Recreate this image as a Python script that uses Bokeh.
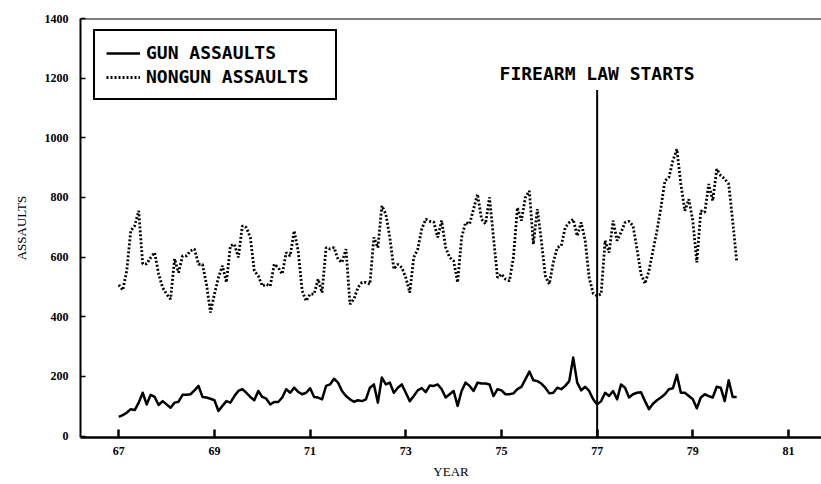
from bokeh.plotting import figure
from bokeh.models import Range1d, FixedTicker, Legend, LegendItem, Label, Span
from bokeh.embed import file_html
from bokeh.resources import INLINE

# ---------------- data (monthly, Jan 1967 - Dec 1979) ----------------
START_YEAR = 67
gun = [64, 70, 78, 90, 87, 112, 145, 106, 138, 131,
       104, 117, 106, 95, 112, 115, 138, 138, 140, 153,
       168, 131, 129, 125, 120, 84, 101, 117, 112, 134,
       151, 157, 145, 131, 120, 151, 131, 125, 106, 114,
       114, 129, 157, 145, 162, 148, 140, 145, 160, 131,
       129, 123, 168, 173, 192, 179, 151, 134, 123, 115,
       120, 117, 123, 162, 173, 112, 196, 173, 179, 145,
       162, 173, 145, 117, 134, 153, 161, 147, 169, 168,
       173, 157, 129, 140, 151, 101, 151, 179, 168, 151,
       179, 176, 176, 173, 134, 157, 153, 140, 140, 143,
       157, 165, 190, 216, 187, 184, 176, 162, 143, 145,
       162, 157, 168, 184, 263, 179, 153, 165, 151, 123,
       106, 117, 145, 134, 151, 123, 173, 162, 129, 140,
       145, 147, 117, 90, 108, 120, 129, 140, 157, 160,
       205, 145, 145, 134, 123, 93, 129, 140, 134, 129,
       165, 162, 117, 187, 131, 131]
nongun = [507, 489, 554, 688, 705, 755, 577, 577, 598, 615,
          543, 498, 476, 459, 594, 548, 604, 604, 621, 627,
          576, 576, 509, 414, 476, 531, 571, 515, 638, 643,
          599, 705, 699, 666, 554, 537, 503, 509, 503, 576,
          565, 543, 615, 604, 688, 621, 487, 453, 476, 476,
          526, 481, 632, 627, 632, 593, 582, 627, 442, 459,
          498, 515, 515, 509, 666, 632, 772, 744, 666, 560,
          576, 565, 531, 481, 599, 627, 694, 727, 720, 718,
          666, 722, 632, 599, 587, 515, 666, 716, 711, 761,
          811, 727, 711, 800, 666, 531, 543, 526, 520, 599,
          766, 722, 800, 822, 643, 761, 655, 537, 509, 582,
          632, 638, 699, 716, 727, 671, 716, 655, 531, 478,
          470, 476, 655, 615, 722, 655, 683, 716, 720, 705,
          627, 543, 511, 554, 621, 688, 766, 856, 867, 923,
          962, 845, 755, 794, 722, 582, 755, 750, 845, 789,
          895, 873, 862, 845, 722, 587]
months = [START_YEAR + i / 12 for i in range(len(gun))]

x_ticks = [67, 69, 71, 73, 75, 77, 79, 81]
y_ticks = [0, 200, 400, 600, 800, 1000, 1200, 1400]
series_labels = ["GUN ASSAULTS", "NONGUN ASSAULTS"]
x_label = "YEAR"
y_label = "ASSAULTS"
law_year = 77
law_line_top = 1160
law_text = "FIREARM LAW STARTS"
law_text_y = 1216

X_MIN, X_MAX = 66.2, 81.69
Y_MIN, Y_MAX = -5, 1400

MONO = "DejaVu Sans Mono"
SERIF = "Liberation Serif"

p = figure(width=821, height=484, output_backend="svg", toolbar_location=None,
           x_range=Range1d(X_MIN, X_MAX), y_range=Range1d(Y_MIN, Y_MAX),
           min_border_left=80, min_border_right=0, min_border_top=18,
           min_border_bottom=47)
p.outline_line_color = None
p.grid.visible = False
p.background_fill_color = "white"
p.border_fill_color = "white"

# axes
xa = p.xaxis[0]
xa.ticker = FixedTicker(ticks=x_ticks)
xa.axis_line_color = "black"
xa.axis_line_width = 2.5
xa.major_tick_in = 8
xa.major_tick_out = 0
xa.major_tick_line_color = "black"
xa.major_tick_line_width = 2.5
xa.minor_tick_line_color = None
xa.major_label_text_font = SERIF
xa.major_label_text_font_style = "bold"
xa.major_label_text_font_size = "12px"
xa.major_label_text_color = "black"
xa.major_label_standoff = 9
xa.axis_label = x_label
xa.axis_label_text_font = SERIF
xa.axis_label_text_font_style = "normal"
xa.axis_label_text_font_size = "13px"
xa.axis_label_text_color = "black"
xa.axis_label_standoff = 6

ya = p.yaxis[0]
ya.ticker = FixedTicker(ticks=y_ticks)
ya.axis_line_color = "black"
ya.axis_line_width = 2
ya.major_tick_in = 5
ya.major_tick_out = 0
ya.major_tick_line_color = "black"
ya.major_tick_line_width = 1.5
ya.minor_tick_line_color = None
ya.major_label_text_font = SERIF
ya.major_label_text_font_style = "bold"
ya.major_label_text_font_size = "12px"
ya.major_label_text_color = "black"
ya.major_label_standoff = 12
ya.axis_label = y_label
ya.axis_label_text_font = SERIF
ya.axis_label_text_font_style = "normal"
ya.axis_label_text_font_size = "13px"
ya.axis_label_text_color = "black"
ya.axis_label_standoff = 13

# top frame line
p.add_layout(Span(location=Y_MAX, dimension="width", line_color="black", line_width=2))

# series
r_gun = p.line(months, gun, line_color="black", line_width=2.5, line_join="round")
r_non = p.line(months, nongun, line_color="black", line_width=2.8, line_dash="2 2")

# law start marker
p.segment(x0=[law_year], y0=[Y_MIN], x1=[law_year], y1=[law_line_top],
          line_color="black", line_width=2)
p.add_layout(Label(x=law_year, y=law_text_y, text=law_text, text_align="center",
                   text_baseline="middle", text_font=MONO, text_font_style="bold",
                   text_font_size="18px", text_color="black"))

legend = Legend(items=[LegendItem(label=series_labels[0], renderers=[r_gun]),
                       LegendItem(label=series_labels[1], renderers=[r_non])],
                location=(13, 337), margin=0, padding=11, spacing=3,
                glyph_width=34, glyph_height=20, label_height=20, label_width=178,
                label_standoff=6, label_text_font=MONO, label_text_font_style="bold",
                label_text_font_size="18px", label_text_color="black",
                border_line_color="black", border_line_width=2, border_line_alpha=1.0,
                background_fill_color="white", background_fill_alpha=1.0)
p.add_layout(legend)

open("out.html", "w").write(file_html(p, INLINE))
